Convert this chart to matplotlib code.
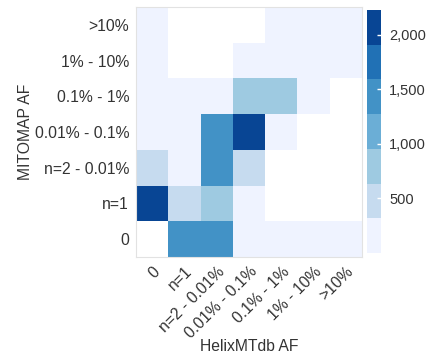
import matplotlib
matplotlib.use('Agg')
import matplotlib.pyplot as plt
from matplotlib.colors import ListedColormap, BoundaryNorm
from matplotlib.ticker import FuncFormatter
import numpy as np

plt.rcParams['font.family'] = ['Liberation Sans', 'DejaVu Sans']

# rows listed top to bottom, columns left to right
mitomap_bins = ['>10%', '1% - 10%', '0.1% - 1%', '0.01% - 0.1%',
                'n=2 - 0.01%', 'n=1', '0']
helix_bins = ['0', 'n=1', 'n=2 - 0.01%', '0.01% - 0.1%',
              '0.1% - 1%', '1% - 10%', '>10%']
nan = np.nan
row_gt10 = [80, nan, nan, nan, 60, 40, 30]
row_1_10 = [90, nan, nan, 50, 70, 60, 40]
row_01_1 = [150, 120, 100, 850, 800, 90, nan]
row_001_01 = [200, 150, 1450, 2050, 120, nan, nan]
row_n2_001 = [480, 180, 1420, 500, nan, nan, nan]
row_n1 = [2226, 450, 760, 40, nan, nan, nan]
row_0 = [nan, 1400, 1380, 100, 60, 40, 20]

counts = np.array([row_gt10, row_1_10, row_01_1, row_001_01,
                   row_n2_001, row_n1, row_0])

blues7 = ['#eff3ff', '#c6dbef', '#9ecae1', '#6baed6',
          '#4292c6', '#2171b5', '#084594']
cmap = ListedColormap(blues7)
cmap.set_bad('white')
vmax = np.nanmax(counts)
bounds = np.linspace(0, vmax, len(blues7) + 1)
norm = BoundaryNorm(bounds, cmap.N)

text_color = '#333333'
fig = plt.figure(figsize=(4.27, 3.6), dpi=100)
ax = fig.add_axes([0.3185, 0.2861, 0.5293, 0.6945])
cax = fig.add_axes([0.8595, 0.2972, 0.0328, 0.675])

mesh = ax.pcolormesh(np.ma.masked_invalid(counts), cmap=cmap, norm=norm)
ax.set_xlim(0, len(helix_bins))
ax.set_ylim(len(mitomap_bins), 0)

ax.set_xticks(np.arange(len(helix_bins)) + 0.5)
ax.set_xticklabels(helix_bins, rotation=45, ha='right',
                   rotation_mode='anchor', fontsize=11.3, color=text_color)
ax.set_yticks(np.arange(len(mitomap_bins)) + 0.5)
ax.set_yticklabels(mitomap_bins, fontsize=11.3, color=text_color)
ax.tick_params(length=0, pad=5)
ax.set_xlabel('HelixMTdb AF', fontsize=11.3, color=text_color, labelpad=-2)
ax.set_ylabel('MITOMAP AF', fontsize=11.3, color=text_color, labelpad=1)
for s in ax.spines.values():
    s.set_color('#e2e2e2')
    s.set_linewidth(0.8)

cb = fig.colorbar(mesh, cax=cax, ticks=[500, 1000, 1500, 2000])
cb.outline.set_visible(False)
cb.ax.minorticks_off()
cb.ax.yaxis.set_major_formatter(FuncFormatter(lambda v, p: f'{v:,.0f}'))
cb.ax.tick_params(direction='in', color='white', length=3, width=1,
                  labelsize=10.5, labelcolor=text_color, pad=6)

plt.savefig('out.png', dpi=100)
plt.close()
